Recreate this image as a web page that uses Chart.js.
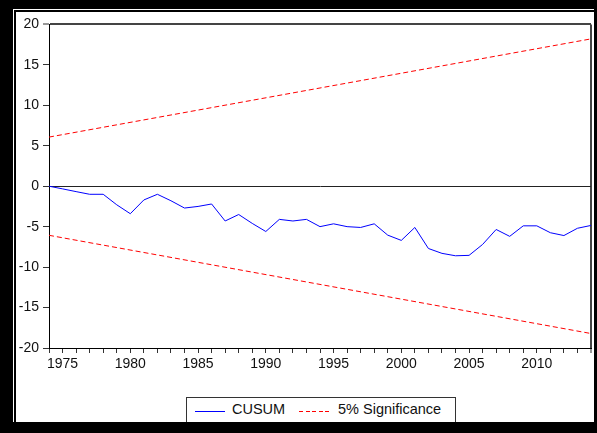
<!DOCTYPE html>
<html>
<head>
<meta charset="utf-8">
<script src="https://cdn.jsdelivr.net/npm/chart.js@4"></script>
<style>
  html, body { margin: 0; padding: 0; }
  body { width: 597px; height: 433px; background: #000; position: relative; overflow: hidden; }
  #frame { position: absolute; left: 13px; top: 9px; width: 581px; height: 413px; background: #fff; overflow: hidden; }
  #inner { position: absolute; left: 1px; top: 1px; right: 0; bottom: 0; border-left: 2px solid #000; border-top: 2px solid #000; }
  #wrap { position: absolute; left: 3px; top: 3px; width: 578px; height: 410px; }
  #cusumChart { display: block; width: 578px; height: 410px; }
  #legend { position: absolute; left: 173px; top: 388px; width: 268px; height: 40px; border: 1px solid #333; background: #fff;
    font-family: "Liberation Sans", Arial, sans-serif; font-size: 14.5px; color: #111; }
  #legend span { position: absolute; top: 3px; white-space: nowrap; }
  #legend .sample { position: absolute; top: 13px; height: 1px; }
  #legend .blue { left: 8px; width: 30px; background: #0000ff; }
  #legend .red { left: 112px; width: 32px;
    background: repeating-linear-gradient(to right, #ff0000 0 4px, transparent 4px 6.5px); }
</style>
</head>
<body>
<div id="frame">
  <div id="inner"></div>
  <div id="wrap"><canvas id="cusumChart" width="578" height="410"></canvas></div>
  <div id="legend">
    <div class="sample blue"></div>
    <span style="left:45px">CUSUM</span>
    <div class="sample red"></div>
    <span style="left:151px">5% Significance</span>
  </div>
</div>
<script>
// CUSUM TEST DATA
const years = [1974, 1975, 1976, 1977, 1978, 1979, 1980, 1981, 1982, 1983,
  1984, 1985, 1986, 1987, 1988, 1989, 1990, 1991, 1992, 1993,
  1994, 1995, 1996, 1997, 1998, 1999, 2000, 2001, 2002, 2003,
  2004, 2005, 2006, 2007, 2008, 2009, 2010, 2011, 2012, 2013, 2014];
const cusum = [0, -0.33, -0.67, -1.0, -1.0, -2.3, -3.4, -1.7, -1.0, -1.8,
  -2.7, -2.5, -2.2, -4.3, -3.5, -4.6, -5.6, -4.1, -4.3, -4.1,
  -5.0, -4.65, -5.0, -5.1, -4.65, -6.05, -6.7, -5.1, -7.7, -8.3,
  -8.6, -8.55, -7.2, -5.35, -6.2, -4.9, -4.9, -5.75, -6.1, -5.2, -4.85];

// 5% significance bounds (straight lines between end points)
const boundYears = [1974, 2014];
const upperBound = [6.07, 18.21];
const lowerBound = [-6.07, -18.21];

const yTicks = [-20, -15, -10, -5, 0, 5, 10, 15, 20];

const toPoints = (xs, ys) => xs.map((x, i) => ({ x: x, y: ys[i] }));

const font = { family: "'Liberation Sans', Arial, sans-serif", size: 14 };

new Chart(document.getElementById("cusumChart"), {
  type: "line",
  data: {
    datasets: [
      {
        label: "CUSUM",
        data: toPoints(years, cusum),
        borderColor: "#0000ff",
        borderWidth: 1,
        pointRadius: 0,
        tension: 0
      },
      {
        label: "5% Significance",
        data: toPoints(boundYears, upperBound),
        borderColor: "#ff0000",
        borderWidth: 1,
        borderDash: [5, 3],
        pointRadius: 0
      },
      {
        label: "5% Significance (lower)",
        data: toPoints(boundYears, lowerBound),
        borderColor: "#ff0000",
        borderWidth: 1,
        borderDash: [5, 3],
        pointRadius: 0
      }
    ]
  },
  options: {
    responsive: false,
    animation: false,
    layout: { padding: { top: 12, right: 1, left: 0, bottom: 0 } },
    plugins: {
      legend: { display: false },
      tooltip: { enabled: false }
    },
    scales: {
      x: {
        type: "linear",
        min: years[0],
        max: years[years.length - 1],
        afterFit: s => { s.height = 74; },
        border: { color: "#000", width: 1 },
        grid: {
          drawOnChartArea: true,
          color: c => (c.tick && c.tick.value === 2014 ? "#444" : "transparent"),
          lineWidth: c => (c.tick && c.tick.value === 2014 ? 2 : 1),
          tickColor: "#333",
          tickWidth: 1,
          tickLength: 5
        },
        ticks: {
          stepSize: 1,
          autoSkip: false,
          maxRotation: 0,
          padding: 3,
          color: "#111",
          font: font,
          callback: v => (v % 5 === 0 ? String(v) : "")
        }
      },
      y: {
        min: -20,
        max: 20,
        afterFit: s => { s.width = 33; },
        afterBuildTicks: s => { s.ticks = yTicks.map(v => ({ value: v })); },
        border: { color: "#000", width: 1 },
        grid: {
          color: c => {
            if (!c.tick) return "transparent";
            if (c.tick.value === 0) return "#222";
            if (c.tick.value === 20) return "#444";
            return "transparent";
          },
          lineWidth: c => (c.tick && c.tick.value === 20 ? 2 : 1),
          tickColor: "#333",
          tickWidth: 1,
          tickLength: 6
        },
        ticks: {
          autoSkip: false,
          padding: 4,
          color: "#111",
          font: font
        }
      }
    }
  }
});
</script>
</body>
</html>
